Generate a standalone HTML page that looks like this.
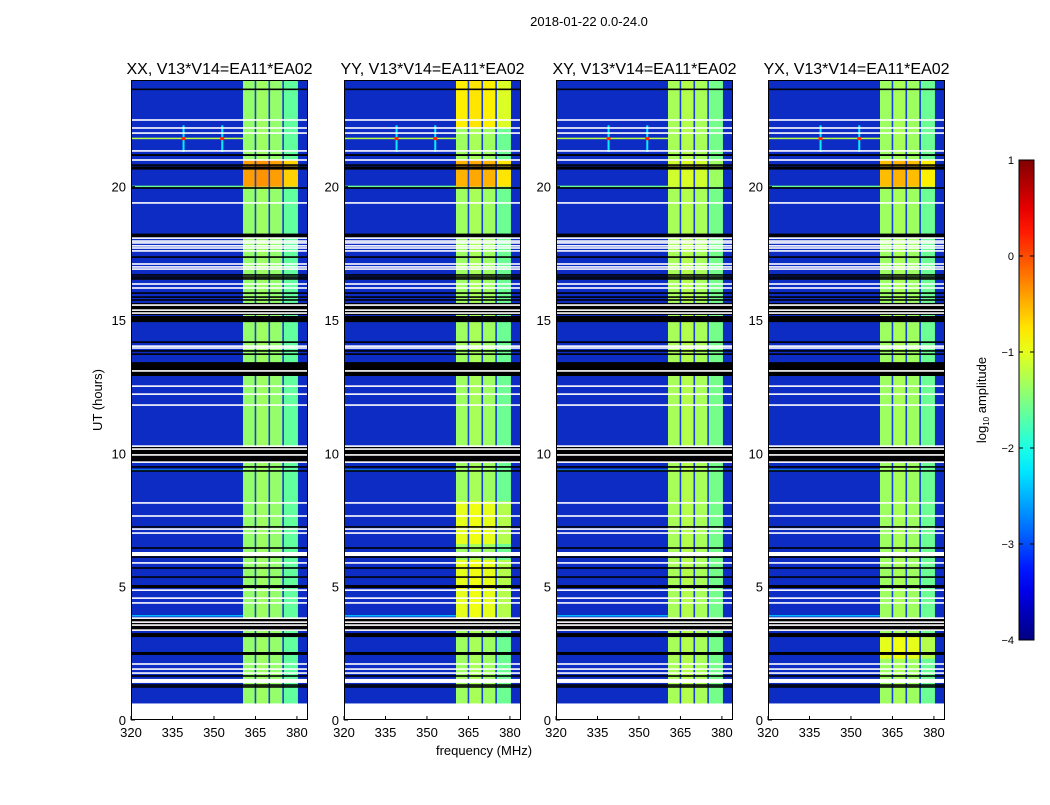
<!DOCTYPE html>
<html><head><meta charset="utf-8"><style>
body{margin:0;background:#fff;}
svg text{font-family:"Liberation Sans",sans-serif;fill:#000;}
</style></head><body>
<svg id="fig" width="1050" height="800" xmlns="http://www.w3.org/2000/svg">
<rect width="1050" height="800" fill="#fff"/>
<text x="589" y="26" font-size="13" text-anchor="middle">2018-01-22 0.0-24.0</text>
<text x="484" y="755" font-size="13" text-anchor="middle">frequency (MHz)</text>
<text transform="translate(102,400) rotate(-90)" font-size="13" text-anchor="middle">UT (hours)</text>
<g id="panels"></g>
<g id="cbar"></g>
</svg>
<script>
const panelTitles=["XX, V13*V14=EA11*EA02","YY, V13*V14=EA11*EA02","XY, V13*V14=EA11*EA02","YX, V13*V14=EA11*EA02"];
const xTicks=[320,335,350,365,380];
const yTicks=[0,5,10,15,20];
const cbarTicks=[1,0,-1,-2,-3,-4];
const bgColor="#0c2cc4";
// frequency sub-bands of strong signal [start,end] MHz
const subBands=[[360.5,364.8],[365.2,369.8],[370.2,374.8],[375.2,380]];
const subBandOffset=[0,0.05,0,-0.25];
const separators=[365,370,375];
// band level per panel: [startHour,endHour,level]
const bandLevels=[
 [[0.6,24,-1.4],[20.0,21.0,-0.4],[3.4,3.8,-0.8]],
 [[0.6,24,-1.35],[22.2,24,-0.8],[20.0,21.0,-0.5],[3.6,6.0,-1.0],[6.6,8.2,-1.0]],
 [[0.6,24,-1.3],[20.0,21.0,-1.1]],
 [[0.6,24,-1.35],[20.0,21.0,-0.55],[2.3,3.2,-1.0]]
];
// flagged time rows [startHour,endHour,colour 0=black 1=white]
const flagRows=[[23.62,23.68,0],[22.47,22.53,1],[22.17,22.23,1],[21.98,22.04,1],[21.31,21.37,1],[21.15,21.22,0],[20.97,21.03,1],[20.78,20.84,0],[20.64,20.76,0],[19.92,19.98,0],[19.36,19.42,1],[18.1,18.24,0],[18.04,18.1,1],[17.93,17.99,1],[17.86,17.92,1],[17.75,17.81,1],[17.67,17.73,1],[17.56,17.62,1],[17.33,17.39,0],[17.07,17.13,1],[16.96,17.02,1],[16.88,16.94,1],[16.66,16.72,0],[16.58,16.64,0],[16.51,16.57,0],[16.32,16.38,1],[16.17,16.23,1],[15.98,16.04,0],[15.83,15.89,0],[15.72,15.78,0],[15.19,15.64,0],[15.53,15.59,1],[15.34,15.4,1],[15.23,15.29,1],[14.92,15.15,0],[14.14,14.2,0],[13.99,14.05,1],[13.92,13.98,1],[13.81,13.87,0],[13.69,13.75,0],[12.9,13.42,0],[13.06,13.12,1],[12.49,12.55,1],[12.19,12.25,1],[11.78,11.84,1],[9.67,10.24,0],[10.24,10.3,1],[10.13,10.19,1],[9.91,9.97,1],[9.64,9.7,1],[9.46,9.52,0],[9.31,9.37,0],[8.11,8.17,1],[7.62,7.68,1],[7.21,7.27,0],[7.13,7.19,1],[6.98,7.04,1],[6.42,6.48,0],[6.15,6.3,1],[6.08,6.14,0],[5.86,5.92,1],[5.67,5.73,0],[5.33,5.39,0],[4.95,5.06,0],[4.84,4.9,1],[4.54,4.6,1],[4.36,4.42,1],[3.34,3.79,0],[3.79,3.85,1],[3.64,3.7,1],[3.53,3.59,1],[3.34,3.4,1],[3.11,3.26,0],[2.44,2.55,0],[2.07,2.13,1],[1.88,1.94,1],[1.73,1.79,1],[1.62,1.68,0],[1.39,1.54,1],[1.28,1.34,0],[1.21,1.27,0],[0,0.62,1]];
// RFI rows [hour, level] and RFI spike [freq, hour]
const rfiRows=[[21.8,-1.2],[20.0,-1.6],[9.35,-2.2],[3.9,-2.5]];
const rfiSpikes=[[339,21.8],[353,21.8]];

const NS="http://www.w3.org/2000/svg";
function jet(v){let t=(v+4)/5;t=Math.max(0,Math.min(1,t));
 const f=x=>Math.round(255*Math.max(0,Math.min(1,x)));
 const r=f(Math.min(4*t-1.5,-4*t+4.5)),g=f(Math.min(4*t-0.5,-4*t+3.5)),b=f(Math.min(4*t+0.5,-4*t+2.5));
 return `rgb(${r},${g},${b})`;}
function mk(tag,attrs,parent){const e=document.createElementNS(NS,tag);for(const k in attrs)e.setAttribute(k,attrs[k]);parent.appendChild(e);return e;}
const panelX=[131,344,556,768],PW=177,PT=80,PB=720;
const fMin=320,fMax=384,tMin=0,tMax=24;
const xs=(p,f)=>panelX[p]+(f-fMin)/(fMax-fMin)*PW;
const ys=h=>PB-(h-tMin)/(tMax-tMin)*(PB-PT);
const G=document.getElementById('panels');
panelTitles.forEach((title,p)=>{
 const g=mk('g',{},G);
 
 
 const bg=mk('rect',{x:panelX[p],y:PT,width:PW,height:PB-PT,fill:bgColor},g);
 
 
 bandLevels[p].forEach(([h0,h1,lv])=>{
  subBands.forEach(([f0,f1],i)=>{
   const r=mk('rect',{x:xs(p,f0),y:ys(h1),width:xs(p,f1)-xs(p,f0)+1,height:ys(h0)-ys(h1),fill:jet(lv+subBandOffset[i])},g);
   
   
  });
 });
 separators.forEach(f=>{
  const r=mk('rect',{x:xs(p,f)-0.8,y:ys(24),width:1.6,height:ys(0.6)-ys(24),fill:'#1a40d8'},g);
  
  
 });
 rfiRows.forEach(([h,lv])=>{
  const r=mk('rect',{x:panelX[p],y:ys(h)-1,width:xs(p,360.5)-panelX[p],height:1.5,fill:jet(lv)},g);
  
  
 });
 rfiSpikes.forEach(([f,h])=>{
  const r=mk('rect',{x:xs(p,f)-1,y:ys(h+0.5),width:2,height:ys(h-0.5)-ys(h+0.5),fill:jet(-2.2)},g);
  
  
  const c=mk('rect',{x:xs(p,f)-2,y:ys(h)-1.5,width:4,height:3,fill:jet(0.2)},g);
  
  
 });
 flagRows.forEach(([h0,h1,c])=>{
  const r=mk('rect',{x:panelX[p],y:ys(h1),width:PW,height:Math.max(1,ys(h0)-ys(h1)),fill:c?'#fff':'#000'},g);
  
  
 });
 const fr=mk('rect',{x:panelX[p]+0.5,y:PT+0.5,width:PW-1,height:PB-PT-1,fill:'none',stroke:'#000','stroke-width':1},g);
 
 
 const t=mk('text',{x:panelX[p]+PW/2,y:74,'font-size':16,'text-anchor':'middle'},g);
 t.textContent=title;
 
 
 xTicks.forEach(v=>{
  const x=xs(p,v);
  mk('line',{x1:x,x2:x,y1:PB,y2:PB-4,stroke:'#000'},g);
  const l=mk('text',{x:x,y:PB+17,'font-size':13,'text-anchor':'middle'},g);
  l.textContent=v;
  
  
 });
 yTicks.forEach(v=>{
  const y=ys(v);
  mk('line',{x1:panelX[p],x2:panelX[p]+4,y1:y,y2:y,stroke:'#000'},g);
  const l=mk('text',{x:panelX[p]-5,y:y+5,'font-size':13,'text-anchor':'end'},g);
  l.textContent=v;
  
  
 });
});
// colorbar
const C=document.getElementById('cbar');
const cx=1019,cw=15,cT=160,cB=640,vMin=-4,vMax=1;
const cy=v=>cB-(v-vMin)/(vMax-vMin)*(cB-cT);
const defs=mk('defs',{},C);
const grad=mk('linearGradient',{id:'jetg',x1:0,y1:1,x2:0,y2:0},defs);
for(let i=0;i<=20;i++){mk('stop',{offset:i/20,'stop-color':jet(vMin+i/20*(vMax-vMin))},grad);}
const cb=mk('rect',{x:cx,y:cT,width:cw,height:cB-cT,fill:'url(#jetg)',stroke:'#000'},C);


cbarTicks.forEach(v=>{
 const y=cy(v);
 mk('line',{x1:cx,x2:cx+4,y1:y,y2:y,stroke:'#000'},C);
 mk('line',{x1:cx+cw-4,x2:cx+cw,y1:y,y2:y,stroke:'#000'},C);
 const l=mk('text',{x:1014,y:y+4,'font-size':11,'text-anchor':'end'},C);
 l.textContent=v<0?'\u2212'+(-v):v;
 
 
});
const cl=mk('text',{transform:'translate(986,400) rotate(-90)','font-size':13,'text-anchor':'middle'},C);
cl.innerHTML='log<tspan font-size="8" dy="3">10</tspan><tspan dy="-3"> amplitude</tspan>';


</script>
</body></html>
